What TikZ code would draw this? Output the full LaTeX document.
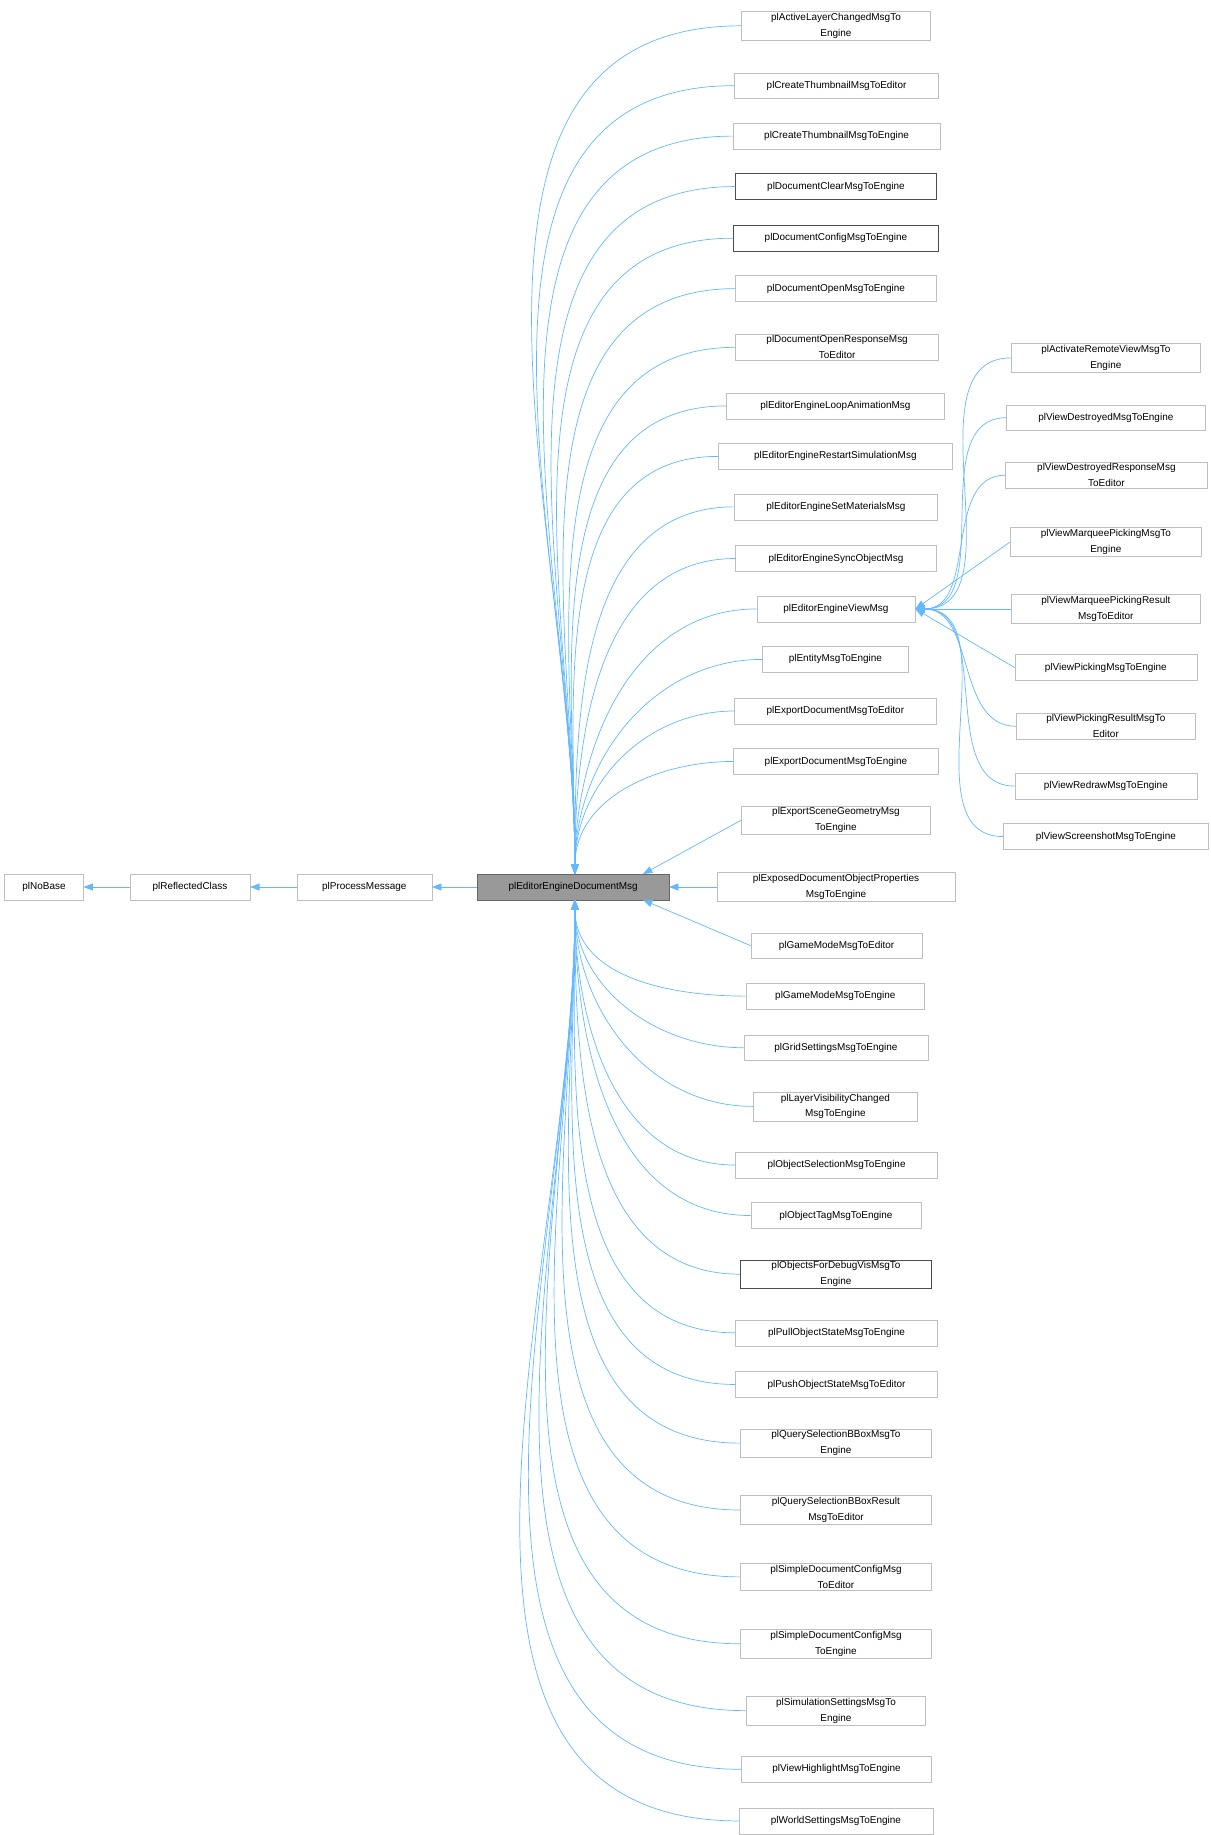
\documentclass[tikz,border=0pt]{standalone}
\usepackage{fontspec}
\setmainfont{Liberation Sans}
\usetikzlibrary{arrows.meta}
\definecolor{edgec}{HTML}{63B8FF}
\definecolor{bord}{HTML}{BFBFBF}
\tikzset{
  box/.style={draw=bord,fill=white,align=center,inner xsep=2pt,inner ysep=1.5pt,minimum height=22pt,font=\fontsize{8.5}{13.5}\selectfont},
  darkb/.style={draw=black!70},
  edge/.style={draw=edgec,line width=0.6pt,{Triangle[length=8pt,width=6pt,fill=edgec]}-}
}
\newcommand\cn[6][]{\node[box,#1,minimum width={#5-#4}] (#2) at ({(#4+#5)/2},#3) {#6};}
\begin{document}
\begin{tikzpicture}[x=1pt,y=-1pt]
\useasboundingbox (0,0) rectangle (1032,1564);
\cn{nobase}{756}{4}{71}{plNoBase}
\cn{refl}{756}{111}{213}{plReflectedClass}
\cn{proc}{756}{253}{368}{plProcessMessage}
\cn[fill=black!40,draw=black!60]{doc}{756}{407}{570}{plEditorEngineDocumentMsg}
\draw[edge] (nobase) -- (refl);
\draw[edge] (refl) -- (proc);
\draw[edge] (proc) -- (doc);
\cn{a1}{22}{632}{793}{plActiveLayerChangedMsgTo\\Engine}
\cn{a2}{73}{626}{800}{plCreateThumbnailMsgToEditor}
\cn{a3}{116}{625}{801}{plCreateThumbnailMsgToEngine}
\cn[darkb]{a4}{159}{627}{798}{plDocumentClearMsgToEngine}
\cn[darkb]{a5}{203}{625}{800}{plDocumentConfigMsgToEngine}
\cn{a6}{246}{627}{798}{plDocumentOpenMsgToEngine}
\cn{a7}{296}{627}{800}{plDocumentOpenResponseMsg\\ToEditor}
\cn{a8}{346}{619}{805}{plEditorEngineLoopAnimationMsg}
\cn{a9}{389}{612}{812}{plEditorEngineRestartSimulationMsg}
\cn{a10}{432}{626}{799}{plEditorEngineSetMaterialsMsg}
\cn{a11}{476}{627}{798}{plEditorEngineSyncObjectMsg}
\cn{a12}{519}{645}{780}{plEditorEngineViewMsg}
\cn{a13}{562}{650}{774}{plEntityMsgToEngine}
\cn{a14}{606}{626}{798}{plExportDocumentMsgToEditor}
\cn{a15}{649}{625}{800}{plExportDocumentMsgToEngine}
\cn{a16}{699}{632}{793}{plExportSceneGeometryMsg\\ToEngine}
\cn{a17}{756}{611}{814}{plExposedDocumentObjectProperties\\MsgToEngine}
\cn{a18}{806}{640}{786}{plGameModeMsgToEditor}
\cn{a19}{849}{636}{788}{plGameModeMsgToEngine}
\cn{a20}{893}{634}{791}{plGridSettingsMsgToEngine}
\cn{a21}{943}{642}{782}{plLayerVisibilityChanged\\MsgToEngine}
\cn{a22}{993}{627}{799}{plObjectSelectionMsgToEngine}
\cn{a23}{1036}{640}{785}{plObjectTagMsgToEngine}
\cn[darkb]{a24}{1086}{631}{794}{plObjectsForDebugVisMsgTo\\Engine}
\cn{a25}{1136}{627}{799}{plPullObjectStateMsgToEngine}
\cn{a26}{1180}{627}{799}{plPushObjectStateMsgToEditor}
\cn{a27}{1230}{631}{794}{plQuerySelectionBBoxMsgTo\\Engine}
\cn{a28}{1287}{631}{794}{plQuerySelectionBBoxResult\\MsgToEditor}
\cn{a29}{1344}{631}{794}{plSimpleDocumentConfigMsg\\ToEditor}
\cn{a30}{1401}{631}{794}{plSimpleDocumentConfigMsg\\ToEngine}
\cn{a31}{1458}{636}{789}{plSimulationSettingsMsgTo\\Engine}
\cn{a32}{1508}{632}{794}{plViewHighlightMsgToEngine}
\cn{a33}{1552}{630}{795}{plWorldSettingsMsgToEngine}
\cn{v1}{305}{862}{1023}{plActivateRemoteViewMsgTo\\Engine}
\cn{v2}{356}{858}{1027}{plViewDestroyedMsgToEngine}
\cn{v3}{405}{857}{1029}{plViewDestroyedResponseMsg\\ToEditor}
\cn{v4}{462}{861}{1024}{plViewMarqueePickingMsgTo\\Engine}
\cn{v5}{519}{862}{1023}{plViewMarqueePickingResult\\MsgToEditor}
\cn{v6}{569}{865}{1020}{plViewPickingMsgToEngine}
\cn{v7}{619}{866}{1019}{plViewPickingResultMsgTo\\Editor}
\cn{v8}{670}{865}{1020}{plViewRedrawMsgToEngine}
\cn{v9}{713}{855}{1030}{plViewScreenshotMsgToEngine}
\coordinate (dn) at (490,745);
\coordinate (ds) at (490,767);
\foreach \i in {1,...,15} \draw[edge] (dn) to[out=90,in=180] (a\i.west);
\draw[edge] (548,745) -- (a16.west);
\draw[edge] (doc.east) -- (a17.west);
\draw[edge] (548,767) -- (a18.west);
\foreach \i in {19,...,33} \draw[edge] (ds) to[out=-90,in=180] (a\i.west);
\foreach \i in {1,2,3,7,8,9} \draw[edge] (a12.east) to[out=0,in=180] (v\i.west);
\draw[edge] (a12.east) -- (v4.west);
\draw[edge] (a12.east) -- (v5.west);
\draw[edge] (a12.east) -- (v6.west);
\end{tikzpicture}
\end{document}
